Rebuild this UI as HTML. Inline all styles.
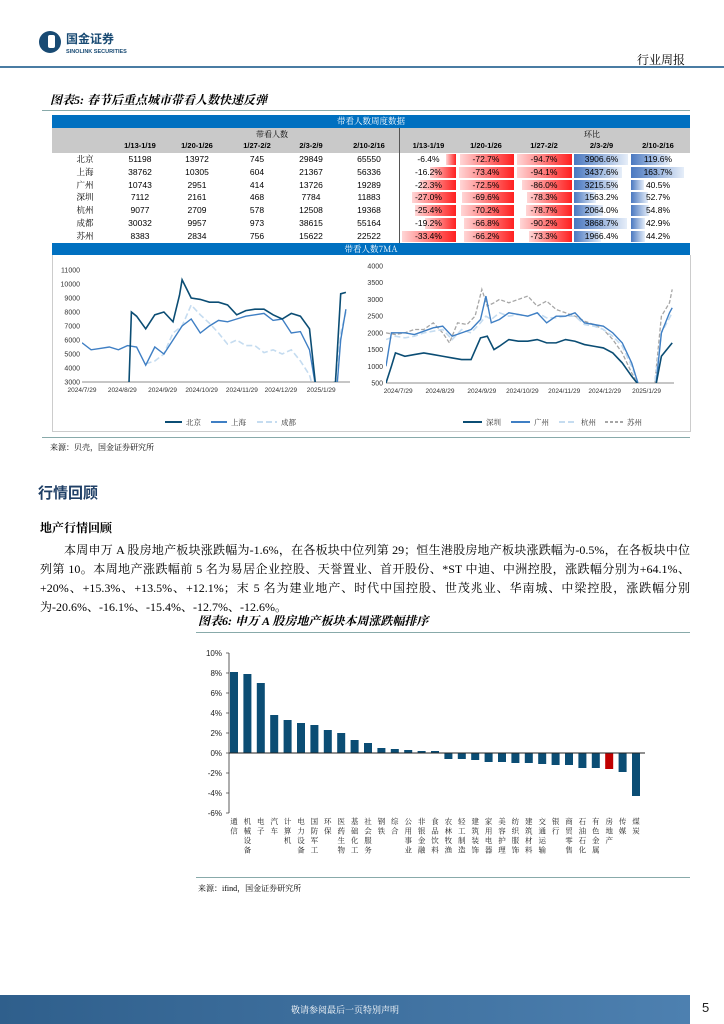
<!DOCTYPE html>
<html><head><meta charset="utf-8">
<style>
body{margin:0;background:#fff;}
#page{position:relative;width:724px;height:1024px;overflow:hidden;background:#fff;font-family:"Liberation Sans","Noto Serif CJK SC",serif;color:#000;}
.abs{position:absolute;}
.ser{font-family:"Liberation Serif","Noto Serif CJK SC",serif;}
</style></head><body>
<div id="page">
  <div class="abs" style="left:38px;top:30px;width:110px;height:26px;">
    <svg width="110" height="26"><circle cx="12" cy="12" r="11" fill="#184a73"/><rect x="10" y="5" width="7" height="13" rx="2" fill="#fff"/>
    <text x="28" y="13" font-size="12" font-weight="bold" fill="#184a73" font-family="Noto Sans CJK SC,sans-serif">国金证券</text>
    <text x="28" y="23" font-size="5.5" font-weight="bold" fill="#184a73" font-family="Liberation Sans,sans-serif">SINOLINK SECURITIES</text></svg>
  </div>
  <div class="abs ser" style="left:637px;top:51px;font-size:12px;">行业周报</div>
  <div class="abs" style="left:0;top:66px;width:724px;height:2px;background:#4a7ca3;"></div>

  <div class="abs ser" style="left:50px;top:91px;font-size:12px;font-weight:bold;font-style:italic;">图表5: 春节后重点城市带看人数快速反弹</div>
  <div class="abs" style="left:42px;top:110px;width:648px;height:1px;background:#8aa;"></div>

  <div id="tbl" class="abs" style="left:52px;top:115px;width:638px;"></div>

  <div class="abs" style="left:52px;top:255px;width:637px;height:176px;border:1px solid #ccc;border-top:none;"></div>
  <div class="abs" style="left:42px;top:437px;width:648px;height:1px;background:#8aa;"></div>
  <div class="abs ser" style="left:50px;top:442px;font-size:8px;">来源：贝壳，国金证券研究所</div>

  <div class="abs" style="left:38px;top:482px;font-size:15px;font-weight:bold;color:#1f3f66;font-family:'Noto Sans CJK SC',sans-serif;">行情回顾</div>
  <div class="abs ser" style="left:40px;top:519px;font-size:12px;font-weight:bold;">地产行情回顾</div>
  <div class="abs ser" style="left:40px;top:541px;width:650px;font-size:12px;line-height:19px;text-indent:24px;text-align:justify;">本周申万 A 股房地产板块涨跌幅为-1.6%，在各板块中位列第 29；恒生港股房地产板块涨跌幅为-0.5%，在各板块中位列第 10。本周地产涨跌幅前 5 名为易居企业控股、天誉置业、首开股份、*ST 中迪、中洲控股，涨跌幅分别为+64.1%、+20%、+15.3%、+13.5%、+12.1%；末 5 名为建业地产、时代中国控股、世茂兆业、华南城、中梁控股，涨跌幅分别为-20.6%、-16.1%、-15.4%、-12.7%、-12.6%。</div>

  <div class="abs ser" style="left:198px;top:612px;font-size:12px;font-weight:bold;font-style:italic;">图表6: 申万 A 股房地产板块本周涨跌幅排序</div>
  <div class="abs" style="left:196px;top:632px;width:494px;height:1px;background:#8aa;"></div>
  <div class="abs" style="left:196px;top:877px;width:494px;height:1px;background:#8aa;"></div>
  <div class="abs ser" style="left:198px;top:883px;font-size:8px;">来源：ifind，国金证券研究所</div>

  <svg id="svg" class="abs" style="left:0;top:0;" width="724" height="1024"></svg>

  <div class="abs" style="left:0;top:995px;width:690px;height:29px;background:linear-gradient(90deg,#2f5f8c,#4d80b0);"></div>
  <div class="abs ser" style="left:0;top:1003px;width:690px;text-align:center;font-size:9px;color:#fff;">敬请参阅最后一页特别声明</div>
  <div class="abs" style="left:702px;top:1000px;font-size:13px;color:#222;">5</div>
</div>
<script>
const cities=["北京","上海","广州","深圳","杭州","成都","苏州"];
const weeks=["1/13-1/19","1/20-1/26","1/27-2/2","2/3-2/9","2/10-2/16"];
const counts=[[51198,13972,745,29849,65550],[38762,10305,604,21367,56336],[10743,2951,414,13726,19289],[7112,2161,468,7784,11883],[9077,2709,578,12508,19368],[30032,9957,973,38615,55164],[8383,2834,756,15622,22522]];
const yoy=[[-6.4,-72.7,-94.7,3906.6,119.6],[-16.2,-73.4,-94.1,3437.6,163.7],[-22.3,-72.5,-86.0,3215.5,40.5],[-27.0,-69.6,-78.3,1563.2,52.7],[-25.4,-70.2,-78.7,2064.0,54.8],[-19.2,-66.8,-90.2,3868.7,42.9],[-33.4,-66.2,-73.3,1966.4,44.2]];
const leftDays={bj:[36,38,42,49,56,63,70,75,77,84,91,98,105,112,119,126,133,140,147,154,161,168,175,180,195,199,203],
 sh:[0,7,14,21,28,35,42,49,56,63,70,77,84,91,98,105,112,119,126,133,140,147,154,161,168,175,180,196,199,203],
 cd:[49,56,63,70,77,84,91,98,105,112,119,126,133,140,147,154,161,168,175,178,194,199,203]};
const bjVals=[2500,8000,7700,6800,7800,8000,7300,9200,10300,9000,8900,8700,8700,8500,7800,8100,8200,8200,7800,7500,7900,7700,6800,2500,3000,9300,9400];
const shVals=[5800,5300,5400,5500,5300,5600,5500,4200,5500,5000,6000,7000,7500,6500,7000,7400,7300,7500,7700,7800,7900,7400,7500,6500,6600,5300,2500,2500,6000,8200];
const cdVals=[4300,4500,5000,6500,7000,8500,7800,7200,6500,5700,6000,5600,5600,5100,5300,5000,5300,4500,3500,2500,2500,6500,8000];
const leftTicks=[3000,4000,5000,6000,7000,8000,9000,10000,11000];
const leftDateLabels=["2024/7/29","2024/8/29","2024/9/29","2024/10/29","2024/11/29","2024/12/29","2025/1/29"];
const leftDateDays=[0,31,62,92,123,153,184];
const rightDays={sz:[0,4,7,14,21,28,35,42,49,56,63,70,75,80,84,91,98,105,112,119,126,133,140,147,154,161,168,175,182,187,200,204,212],
 gz:[0,4,14,21,28,35,42,49,56,63,70,74,78,84,91,98,105,112,119,126,133,140,147,154,161,168,175,182,187,200,204,210,212],
 hz:[0,7,14,21,28,35,42,49,56,63,70,74,78,84,91,98,105,112,119,126,133,140,147,154,161,168,175,182,187,199,204,212],
 su:[0,7,14,21,28,35,42,47,53,60,66,71,75,80,84,91,98,105,112,119,126,133,140,147,154,161,168,175,182,187,199,204,210,212]};
const szVals=[500,1000,1400,1300,1350,1400,1350,1300,1250,1200,1200,1850,1900,1500,1600,1800,1750,1750,1800,1700,1700,1800,1750,1650,1600,1550,1400,1100,700,450,450,1300,1700];
const gzVals=[1000,2000,2000,1950,2050,2150,2200,1900,2000,2100,2400,3100,2300,2400,2600,2550,2500,2600,2300,2500,2500,2600,2300,2250,2200,2000,1700,1100,450,450,2000,2600,2750];
const hzVals=[1800,1900,1850,1900,2000,2050,2100,1800,2100,2000,2300,2500,2400,2600,2500,2550,2500,2600,2450,2450,2500,2500,2250,2200,2100,1900,1600,1000,450,450,2000,2600];
const suVals=[2000,1950,2000,2100,2100,2300,2000,1700,2300,2250,2500,3300,2800,2900,3000,2900,3000,3100,2800,2950,2700,2600,2500,2350,2250,2100,1800,1400,800,450,450,2500,2900,3300];
const rightTicks=[500,1000,1500,2000,2500,3000,3500,4000];
const rightDateLabels=["2024/7/29","2024/8/29","2024/9/29","2024/10/29","2024/11/29","2024/12/29","2025/1/29"];
const rightDateDays=[9,40,71,101,132,162,193];
const sectors=["通信","机械设备","电子","汽车","计算机","电力设备","国防军工","环保","医药生物","基础化工","社会服务","钢铁","综合","公用事业","非银金融","食品饮料","农林牧渔","轻工制造","建筑装饰","家用电器","美容护理","纺织服饰","建筑材料","交通运输","银行","商贸零售","石油石化","有色金属","房地产","传媒","煤炭"];
const sectorChg=[8.1,7.9,7.0,3.8,3.3,3.0,2.8,2.3,2.0,1.3,1.0,0.5,0.4,0.3,0.2,0.2,-0.6,-0.6,-0.7,-0.9,-0.9,-1.0,-1.0,-1.1,-1.2,-1.2,-1.5,-1.5,-1.6,-1.9,-4.3];
const barTicks=[-6,-4,-2,0,2,4,6,8,10];

const T=document.getElementById('tbl');
function div(parent,style,text,name){const d=document.createElement('div');d.style.cssText='position:absolute;'+style;if(text!==undefined)d.textContent=text;


parent.appendChild(d);return d;}
div(T,'left:0;top:0;width:638px;height:13px;background:#0070c0;color:#fff;font-size:8.5px;text-align:center;line-height:13px;font-family:"Noto Serif CJK SC",serif;','带看人数周度数据','table-title-bar');
div(T,'left:0;top:13px;width:638px;height:25px;background:#c9c9c9;','','table-header-bg');
div(T,'left:347px;top:13px;width:1px;height:115px;background:#555;','','table-divider');
div(T,'left:120px;top:14px;width:200px;text-align:center;font-size:8px;font-family:"Noto Serif CJK SC",serif;','带看人数','header-counts');
div(T,'left:440px;top:14px;width:200px;text-align:center;font-size:8px;font-family:"Noto Serif CJK SC",serif;','环比','header-yoy');
const valC=[88,145,205,259,317];
const yoyL=[348,405,463,521,578], yoyW=[57,58,58,57,56];
weeks.forEach((w,i)=>{div(T,`left:${valC[i]-30}px;top:26px;width:60px;text-align:center;font-size:7.5px;font-weight:bold;`,w,'week-header');
div(T,`left:${yoyL[i]}px;top:26px;width:${yoyW[i]}px;text-align:center;font-size:7.5px;font-weight:bold;`,w,'yoy-week-header');});
const maxAbs=weeks.map((_,j)=>Math.max(...yoy.map(r=>Math.abs(r[j]))));
cities.forEach((c,i)=>{const y=38+i*12.8;
 div(T,`left:20px;top:${y}px;width:26px;text-align:center;font-size:8.5px;line-height:12.8px;font-family:"Noto Serif CJK SC",serif;`,c,'city-name');
 counts[i].forEach((v,j)=>div(T,`left:${valC[j]-30}px;top:${y}px;width:60px;text-align:center;font-size:8.5px;line-height:12.8px;`,String(v),'count-cell'));
 yoy[i].forEach((v,j)=>{const w=Math.abs(v)/maxAbs[j]*(yoyW[j]-3);
  if(v<0) div(T,`left:${yoyL[j]+yoyW[j]-1-w}px;top:${y+1}px;width:${w}px;height:10.8px;background:linear-gradient(90deg,#ffd6d6,#ff2020);`,'','yoy-bar-neg');
  else div(T,`left:${yoyL[j]+1}px;top:${y+1}px;width:${w}px;height:10.8px;background:linear-gradient(90deg,#4a78c0,#e6eef9);`,'','yoy-bar-pos');
  div(T,`left:${yoyL[j]}px;top:${y}px;width:${yoyW[j]}px;text-align:center;font-size:8.5px;line-height:12.8px;`,v.toFixed(1)+'%','yoy-cell');});
});
div(T,'left:0;top:128px;width:638px;height:12px;background:#0070c0;color:#fff;font-size:8.5px;text-align:center;line-height:12px;font-family:"Noto Serif CJK SC",serif;','带看人数7MA','ma-title-bar');

const S=document.getElementById('svg');const NS='http://www.w3.org/2000/svg';
function el(tag,attrs,parent){const e=document.createElementNS(NS,tag);for(const k in attrs)e.setAttribute(k,attrs[k]);(parent||S).appendChild(e);return e;}
const defs=el('defs',{});
const cp1=el('clipPath',{id:'cl'},defs);el('rect',{x:82,y:262,width:268,height:120},cp1);
const cp2=el('clipPath',{id:'cr'},defs);el('rect',{x:386,y:262,width:288,height:121},cp2);

const lx=d=>82+d*1.3, ly=v=>382-(v-3000)/8000*112;
leftTicks.forEach(t=>{const e=el('text',{x:80,y:ly(t)+2.5,'font-size':7,'text-anchor':'end',fill:'#333'});e.textContent=t;

});
const la=el('line',{x1:82,y1:382,x2:350,y2:382,stroke:'#666','stroke-width':0.7});


leftDateLabels.forEach((t,i)=>{const e=el('text',{x:lx(leftDateDays[i]),y:392,'font-size':6.5,'text-anchor':'middle',fill:'#333'});e.textContent=t;

});
function line(days,vals,fx,fy,color,dash,clip,name,w){const p=el('polyline',{points:days.map((d,i)=>fx(d)+','+fy(vals[i])).join(' '),fill:'none',stroke:color,'stroke-width':w||1.4,'stroke-dasharray':dash||'none','clip-path':'url(#'+clip+')'});

}
line(leftDays.cd,cdVals,lx,ly,'#c5dcf0','6,3','cl','line-chengdu',1.6);
line(leftDays.sh,shVals,lx,ly,'#3f7fc4','','cl','line-shanghai');
line(leftDays.bj,bjVals,lx,ly,'#0b4d74','','cl','line-beijing',1.6);
const rx=d=>386+d*1.35, ry=v=>383-(v-500)/3500*117;
rightTicks.forEach(t=>{const e=el('text',{x:383,y:ry(t)+2.5,'font-size':7,'text-anchor':'end',fill:'#333'});e.textContent=t;

});
const ra=el('line',{x1:386,y1:383,x2:674,y2:383,stroke:'#666','stroke-width':0.7});


rightDateLabels.forEach((t,i)=>{const e=el('text',{x:rx(rightDateDays[i]),y:393,'font-size':6.5,'text-anchor':'middle',fill:'#333'});e.textContent=t;

});
line(rightDays.su,suVals,rx,ry,'#a6a6a6','4,2','cr','line-suzhou',1.3);
line(rightDays.hz,hzVals,rx,ry,'#c5dcf0','6,3','cr','line-hangzhou',1.6);
line(rightDays.gz,gzVals,rx,ry,'#3f7fc4','','cr','line-guangzhou');
line(rightDays.sz,szVals,rx,ry,'#0b4d74','','cr','line-shenzhen',1.6);
function leg(x1,x2,y,color,dash,label,name,w){const l=el('line',{x1,y1:y,x2,y2:y,stroke:color,'stroke-width':w||2,'stroke-dasharray':dash||'none'});


const t=el('text',{x:x2+4,y:y+3,'font-size':7.5,fill:'#333','font-family':'Noto Serif CJK SC,serif'});t.textContent=label;

}
leg(165,182,422,'#0b4d74','','北京','legend-beijing');
leg(211,227,422,'#3f7fc4','','上海','legend-shanghai');
leg(257,277,422,'#c5dcf0','6,3','成都','legend-chengdu');
leg(463,482,422,'#0b4d74','','深圳','legend-shenzhen');
leg(511,530,422,'#3f7fc4','','广州','legend-guangzhou');
leg(559,577,422,'#c5dcf0','6,3','杭州','legend-hangzhou');
leg(605,623,422,'#a6a6a6','3,2','苏州','legend-suzhou');

const by=v=>753-v*10, bx=i=>234+i*13.4;
const yaxis=el('line',{x1:229,y1:653,x2:229,y2:813,stroke:'#333','stroke-width':0.8});


barTicks.forEach(t=>{el('line',{x1:226,y1:by(t),x2:229,y2:by(t),stroke:'#333','stroke-width':0.7});
const e=el('text',{x:222,y:by(t)+3,'font-size':8,'text-anchor':'end',fill:'#222'});e.textContent=t+'%';

});
sectors.forEach((s,i)=>{const v=sectorChg[i];const r=el('rect',{x:bx(i)-4,y:Math.min(by(v),by(0)),width:8,height:Math.abs(by(v)-by(0)),fill:s==='房地产'?'#c00000':'#0b4d74'});


const t=el('text',{x:bx(i),y:822,'font-size':7.5,fill:'#222','text-anchor':'middle','font-family':'Noto Serif CJK SC,serif'});


[...s].forEach((ch,k)=>{const ts=el('tspan',{x:bx(i),y:824+k*9.5},t);ts.textContent=ch;});});
const zl=el('line',{x1:229,y1:753,x2:645,y2:753,stroke:'#222','stroke-width':0.9});


</script>
</body></html>
